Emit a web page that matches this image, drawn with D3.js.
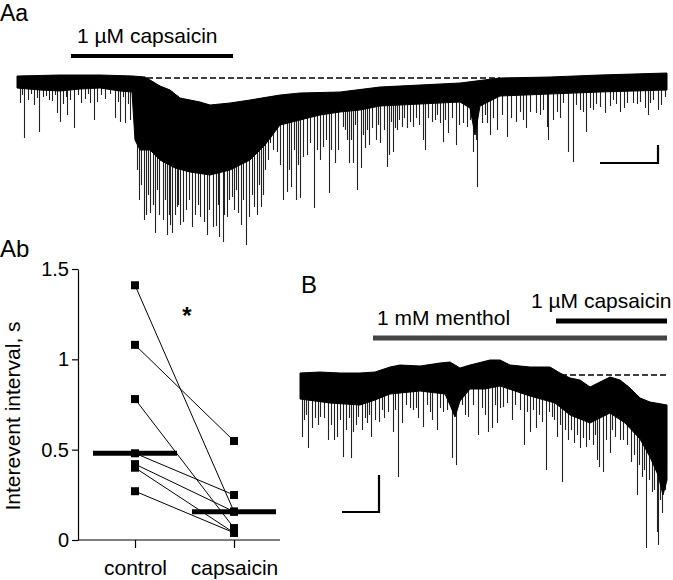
<!DOCTYPE html>
<html lang="en">
<head>
<meta charset="utf-8" />
<title>Capsaicin traces</title>
<script src="https://cdn.jsdelivr.net/npm/d3@7"></script>
<style>
    body { margin: 0; background: #fff; }
    svg { display: block; font-family: "Liberation Sans", Arial, sans-serif; }
</style>
</head>
<body>
<svg id="fig" width="673" height="580"></svg>
<script>
    // ---------- Aa trace (time in s, current in pA, 0 = dashed baseline) ----------
    var aaTopT = [0, 43, 83, 116, 128, 133, 143, 153, 163, 183, 193, 213, 233, 263, 283, 323, 363, 403, 443, 483, 533, 583, 650];
    var aaTopI = [2, 3, 3, 2, 1, -2, -8, -12, -20, -24, -27, -25, -22, -17, -15, -14, -9, -7, -5, 0, 1, 3, 5];
    var aaBotT = [0, 23, 43, 63, 83, 103, 115, 118, 123, 133, 143, 158, 173, 193, 213, 233, 248, 263, 283, 303, 323, 343, 363, 403, 443, 453, 458, 463, 483, 533, 583, 650];
    var aaBotI = [-10, -12, -13, -11, -10, -13, -14, -62, -72, -72, -82, -90, -94, -97, -92, -82, -67, -47, -42, -37, -34, -32, -28, -26, -24, -30, -57, -28, -18, -16, -14, -12];
    // large events
    var aaSpikeT = [3, 7, 17, 22, 26, 32, 40, 43, 50, 57, 64, 73, 77, 98, 103, 108, 113, 120, 127, 133, 138, 146, 150, 155, 160, 163, 175, 183, 190, 196, 202, 206, 210, 215, 221, 229, 232, 237, 244, 248, 253, 260, 266, 270, 274, 279, 283, 286, 293, 297, 303, 306, 312, 318, 326, 330, 332, 336, 340, 344, 348, 352, 359, 363, 370, 372, 376, 380, 385, 390, 396, 406, 408, 415, 423, 426, 431, 439, 446, 450, 456, 460, 465, 470, 473, 480, 490, 499, 509, 519, 530, 531, 536, 546, 551, 556, 563, 569, 576, 583, 588, 596, 603, 610, 616, 623, 631, 636, 641, 648];
    var aaSpikeI = [-25, -60, -27, -54, -19, -22, -35, -44, -37, -50, -25, -25, -42, -40, -44, -45, -42, -92, -142, -135, -155, -142, -157, -155, -129, -147, -149, -139, -157, -149, -159, -164, -139, -119, -135, -167, -139, -129, -129, -92, -65, -74, -122, -114, -109, -122, -120, -79, -65, -130, -82, -69, -115, -85, -49, -62, -85, -85, -112, -90, -70, -67, -62, -65, -89, -77, -74, -52, -49, -50, -49, -62, -72, -44, -45, -64, -55, -67, -45, -49, -74, -109, -45, -45, -57, -52, -59, -44, -50, -35, -49, -62, -42, -25, -74, -84, -32, -54, -32, -29, -35, -22, -34, -25, -25, -24, -37, -22, -32, -19];
    // smaller events that make up the ragged lower edge
    var aaSmallT = [5, 11, 14, 20, 29, 35, 38, 46, 49, 53, 61, 68, 71, 80, 84, 88, 93, 101, 106, 111, 122, 124, 129, 131, 136, 140, 142, 148, 152, 153, 158, 161, 166, 169, 172, 178, 181, 187, 192, 199, 201, 207, 212, 217, 219, 224, 226, 235, 240, 242, 246, 251, 256, 263, 272, 277, 281, 290, 300, 309, 314, 321, 328, 334, 338, 346, 350, 355, 361, 367, 374, 378, 382, 387, 393, 399, 402, 411, 418, 420, 428, 435, 442, 453, 459, 468, 476, 485, 494, 503, 506, 513, 523, 526, 540, 543, 559, 566, 573, 579, 593, 599, 607, 620, 628, 633, 644];
    var aaSmallI = [-17, -22, -16, -20, -18, -23, -17, -26, -19, -22, -17, -21, -16, -24, -17, -21, -16, -24, -19, -26, -122, -107, -137, -117, -127, -112, -137, -122, -137, -147, -137, -127, -144, -132, -122, -137, -127, -144, -132, -148, -127, -137, -122, -132, -112, -147, -122, -117, -137, -107, -117, -82, -72, -87, -92, -72, -87, -77, -72, -62, -72, -72, -52, -62, -47, -57, -52, -50, -47, -52, -44, -50, -42, -40, -44, -40, -47, -40, -42, -37, -42, -40, -47, -42, -62, -37, -40, -37, -40, -34, -42, -34, -37, -32, -34, -40, -27, -34, -30, -26, -28, -26, -30, -26, -30, -25, -27];
    var aaDrugs = ["1 µM capsaicin"];
    var aaDrugStart = [54];
    var aaDrugEnd = [216];

    // ---------- B trace ----------
    var bTopT = [0, 20, 40, 60, 75, 90, 100, 120, 140, 150, 155, 160, 170, 190, 200, 210, 230, 250, 260, 270, 280, 290, 300, 310, 320, 330, 340, 350, 367];
    var bTopI = [2, 3, 2, 2, 3, 8, 10, 9, 12, 13, 10, 7, 10, 15, 15, 10, 8, 8, 2, -3, -5, -12, -7, -2, -5, -13, -23, -27, -30];
    var bBotT = [0, 15, 30, 45, 60, 75, 90, 120, 145, 150, 155, 160, 170, 185, 200, 230, 255, 270, 290, 310, 325, 340, 350, 358, 363, 367];
    var bBotI = [-24, -26, -28, -29, -30, -25, -19, -16, -19, -30, -42, -26, -14, -14, -11, -21, -28, -40, -48, -38, -48, -64, -82, -100, -120, -105];
    var bSpikeT = [2, 8, 12, 20, 28, 34, 37, 43, 51, 53, 58, 67, 71, 75, 79, 84, 93, 98, 102, 110, 118, 123, 132, 137, 143, 152, 156, 168, 178, 188, 192, 197, 203, 212, 220, 224, 230, 236, 242, 246, 252, 257, 262, 268, 274, 280, 286, 293, 297, 299, 303, 310, 315, 323, 331, 337, 342, 346, 352, 357, 358, 362, 365];
    var bSpikeI = [-62, -73, -53, -42, -65, -65, -62, -82, -83, -57, -42, -48, -62, -45, -47, -43, -57, -102, -48, -33, -43, -52, -45, -55, -37, -83, -90, -42, -60, -57, -53, -48, -32, -45, -35, -70, -57, -53, -47, -95, -42, -62, -107, -65, -68, -73, -72, -70, -85, -92, -97, -78, -62, -65, -87, -120, -102, -173, -117, -157, -170, -138, -115];
    var bSmallT = [4, 6, 15, 18, 24, 31, 40, 46, 49, 56, 62, 65, 69, 82, 88, 95, 106, 113, 116, 127, 130, 140, 147, 162, 165, 173, 182, 185, 195, 200, 207, 215, 227, 233, 239, 249, 254, 260, 265, 271, 277, 283, 289, 295, 306, 312, 320, 327, 334, 339, 344, 349, 354, 360, 366];
    var bSmallI = [-45, -40, -43, -50, -43, -50, -45, -55, -43, -50, -55, -43, -40, -35, -37, -35, -30, -35, -33, -30, -37, -33, -35, -30, -40, -30, -33, -40, -30, -33, -28, -30, -37, -35, -40, -37, -45, -50, -55, -55, -60, -63, -65, -60, -65, -55, -65, -70, -80, -90, -95, -105, -115, -125, -95];
    var bDrugs = ["1 mM menthol", "1 µM capsaicin"];
    var bDrugStart = [73, 256];
    var bDrugEnd = [367, 367];

    // ---------- Ab paired data ----------
    var groups = ["control", "capsaicin"];
    var controlVals = [1.41, 1.08, 0.78, 0.48, 0.42, 0.40, 0.27];
    var capsVals = [0.157, 0.548, 0.066, 0.249, 0.157, 0.04, 0.04];
    var abTicks = [0, 0.5, 1, 1.5];

    var svg = d3.select("#fig");

    var xA = d3.scaleLinear().domain([0, 650]).range([17, 667]);
    var yA = d3.scaleLinear().domain([0, -170]).range([78, 248]);
    var xB = d3.scaleLinear().domain([0, 367]).range([300, 667]);
    var yB = d3.scaleLinear().domain([0, -180]).range([375, 555]);

    function drawTrace(g, x, y, topT, topI, botT, botI, spT, spI) {
        var pts = topT.map(function (t, k) { return [t, topI[k]]; })
            .concat(botT.map(function (t, k) { return [t, botI[k]]; }).reverse());
        var line = d3.line().x(function (d) { return x(d[0]); }).y(function (d) { return y(d[1]); });
        var topAt = d3.scaleLinear().domain(topT).range(topI);
        g.append("g").selectAll("line")
            .data(spT)
            .join("line")
            .attr("x1", function (t) { return x(t) + 0.5; })
            .attr("x2", function (t) { return x(t) + 0.5; })
            .attr("y1", function (t) { return y(topAt(t)); })
            .attr("y2", function (t, k) { return y(spI[k]); })
            .attr("stroke", "#222")
            .attr("stroke-width", 1.1);
        g.append("path")
            .attr("d", line(pts) + "Z")
            .attr("fill", "#000")
            .attr("stroke", "#000")
            .attr("stroke-width", 1);
    }

    function dashed(g, x1, x2, y) {
        g.append("line")
            .attr("x1", x1).attr("x2", x2).attr("y1", y).attr("y2", y)
            .attr("stroke", "#000").attr("stroke-width", 1.5)
            .attr("stroke-dasharray", "6,3");
    }

    function scaleBar(g, x, y, t0, i0, dt, di) {
        g.append("path")
            .attr("d", "M" + x(t0 - dt) + "," + y(i0) + "H" + x(t0) + "V" + y(i0 + di))
            .attr("fill", "none").attr("stroke", "#000").attr("stroke-width", 2.2);
    }

    // ---------- panel Aa ----------
    var gA = svg.append("g");
    drawTrace(gA, xA, yA, aaTopT, aaTopI, aaBotT, aaBotI,
        aaSpikeT.concat(aaSmallT), aaSpikeI.concat(aaSmallI));
    dashed(gA, xA(130), xA(483), yA(0));
    gA.selectAll("line.drug").data(aaDrugs).join("line")
        .attr("class", "drug")
        .attr("x1", function (d, k) { return xA(aaDrugStart[k]); })
        .attr("x2", function (d, k) { return xA(aaDrugEnd[k]); })
        .attr("y1", 56).attr("y2", 56)
        .attr("stroke", "#000").attr("stroke-width", 4);
    gA.selectAll("text.drug").data(aaDrugs).join("text")
        .attr("class", "drug")
        .attr("x", function (d, k) { return xA(aaDrugStart[k]) + 6; })
        .attr("y", 43)
        .attr("font-size", 21)
        .text(function (d) { return d; });
    scaleBar(gA, xA, yA, 641, -85, 58, 18);

    svg.append("text").attr("x", 0).attr("y", 21).attr("font-size", 23).text("Aa");
    svg.append("text").attr("x", 0).attr("y", 257).attr("font-size", 24).text("Ab");
    svg.append("text").attr("x", 301).attr("y", 293).attr("font-size", 24).text("B");

    // ---------- panel Ab ----------
    var gAb = svg.append("g");
    var yAb = d3.scaleLinear().domain([0, 1.5]).range([540, 269]);
    var xAb = d3.scalePoint().domain(groups).range([135, 234]);

    var yAxis = gAb.append("g")
        .attr("transform", "translate(78,0)")
        .call(d3.axisLeft(yAb).tickValues(abTicks).tickFormat(function (d) { return String(d); })
            .tickSize(6).tickSizeOuter(0).tickPadding(3));
    yAxis.attr("font-size", 20).attr("font-family", null);
    yAxis.selectAll("path, line").attr("stroke-width", 1.2);

    var xAxis = gAb.append("g")
        .attr("transform", "translate(0,540)")
        .call(d3.axisBottom(xAb).tickSize(8).tickSizeOuter(0).tickPadding(12));
    xAxis.attr("font-size", 21).attr("font-family", null);
    xAxis.select(".domain").remove();
    xAxis.selectAll("line").attr("stroke-width", 1.2);
    gAb.append("line").attr("x1", 78).attr("x2", 280).attr("y1", 540).attr("y2", 540)
        .attr("stroke", "#000").attr("stroke-width", 1.2);

    gAb.append("text")
        .attr("transform", "translate(20,416) rotate(-90)")
        .attr("text-anchor", "middle")
        .attr("font-size", 21)
        .text("Interevent interval, s");

    gAb.selectAll("line.pair").data(controlVals).join("line")
        .attr("class", "pair")
        .attr("x1", xAb("control")).attr("x2", xAb("capsaicin"))
        .attr("y1", function (d) { return yAb(d); })
        .attr("y2", function (d, k) { return yAb(capsVals[k]); })
        .attr("stroke", "#000").attr("stroke-width", 1);

    var sq = 8;
    [controlVals, capsVals].forEach(function (vals, gi) {
        gAb.selectAll("rect.g" + gi).data(vals).join("rect")
            .attr("class", "g" + gi)
            .attr("x", xAb(groups[gi]) - sq / 2)
            .attr("y", function (d) { return yAb(d) - sq / 2; })
            .attr("width", sq).attr("height", sq)
            .attr("fill", "#000");
        var med = d3.median(vals);
        gAb.append("line")
            .attr("x1", xAb(groups[gi]) - 42).attr("x2", xAb(groups[gi]) + 42)
            .attr("y1", yAb(med)).attr("y2", yAb(med))
            .attr("stroke", "#000").attr("stroke-width", 5);
    });

    gAb.append("text").attr("x", 187).attr("y", 324)
        .attr("text-anchor", "middle").attr("font-size", 24).attr("font-weight", "bold")
        .text("*");

    // ---------- panel B ----------
    var gB = svg.append("g");
    drawTrace(gB, xB, yB, bTopT, bTopI, bBotT, bBotI,
        bSpikeT.concat(bSmallT), bSpikeI.concat(bSmallI));
    dashed(gB, xB(0), xB(367), yB(0));
    var bBarY = [338, 321];
    var bTextX = [377, 531];
    var bTextY = [325, 308];
    var bColors = ["#444", "#000"];
    gB.selectAll("line.drug").data(bDrugs).join("line")
        .attr("class", "drug")
        .attr("x1", function (d, k) { return xB(bDrugStart[k]); })
        .attr("x2", function (d, k) { return xB(bDrugEnd[k]); })
        .attr("y1", function (d, k) { return bBarY[k]; })
        .attr("y2", function (d, k) { return bBarY[k]; })
        .attr("stroke", function (d, k) { return bColors[k]; })
        .attr("stroke-width", 5);
    gB.selectAll("text.drug").data(bDrugs).join("text")
        .attr("class", "drug")
        .attr("x", function (d, k) { return bTextX[k]; })
        .attr("y", function (d, k) { return bTextY[k]; })
        .attr("font-size", 21)
        .text(function (d) { return d; });
    scaleBar(gB, xB, yB, 79, -137, 37, 37);
</script>
</body>
</html>
